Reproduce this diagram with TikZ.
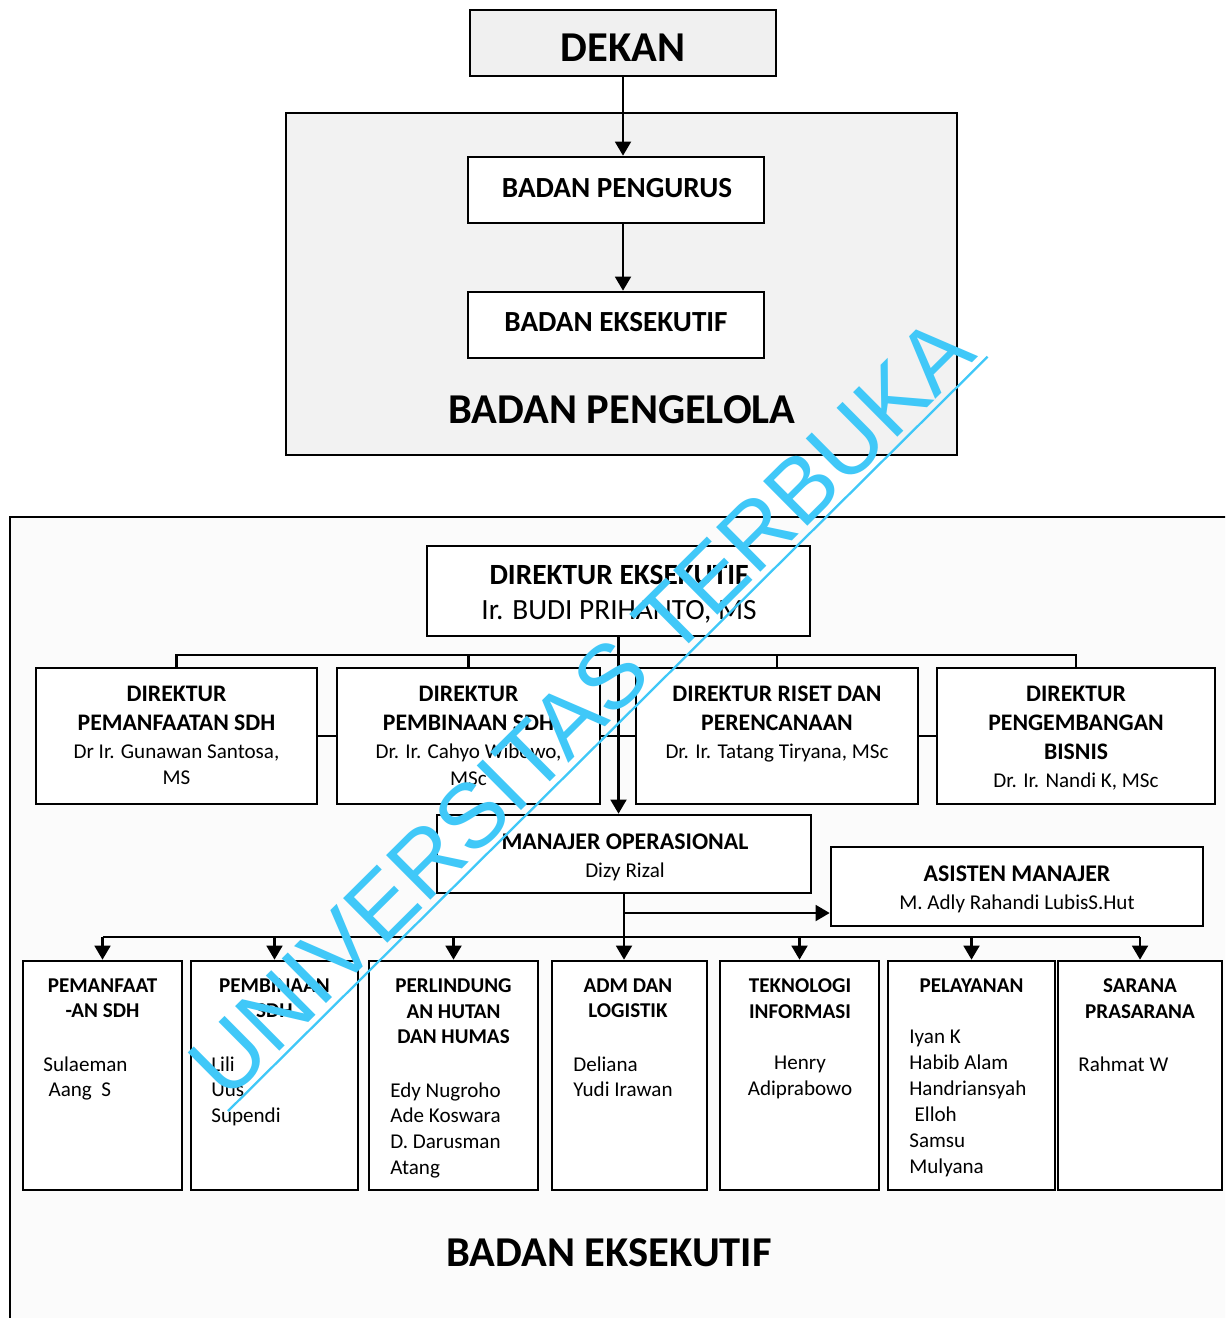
\documentclass[tikz,border=0pt]{standalone}
\usepackage{fontspec}
\setmainfont{Carlito}
\newfontfamily\wmfont{Liberation Sans}
\usepackage{tikz}
\usetikzlibrary{arrows.meta,positioning,calc}
\definecolor{wmcyan}{RGB}{64,200,248}

\tikzset{
  box/.style={draw, line width=1.5pt, fill=white, inner sep=0pt},
  boxsize/.style 2 args={minimum width=#1*0.02cm, minimum height=#2*0.02cm},
  link/.style={line width=1.4pt},
  arr/.style={link, -{Triangle[width=9pt,length=8pt]}},
  bigtxt/.style={inner sep=0pt, font=\fontsize{24.2}{29}\selectfont\bfseries},
  midtxt/.style={inner sep=0pt, font=\fontsize{16.6}{20}\selectfont\bfseries},
  dirtitle/.style={inner sep=0pt, anchor=north, align=center, font=\fontsize{13.5}{16.4}\selectfont\bfseries},
  dirname/.style={inner sep=0pt, anchor=north, align=center, font=\fontsize{12}{15.3}\selectfont},
  unittitle/.style={inner sep=0pt, anchor=north, align=center, font=\fontsize{12}{14.7}\selectfont\bfseries},
  unitname/.style={inner sep=0pt, anchor=north west, align=left, font=\fontsize{12}{14.7}\selectfont},
  wmtxt/.style={text=wmcyan, inner sep=3pt, font=\wmfont\fontsize{52}{52}\selectfont}
}

\begin{document}
\begin{tikzpicture}[x=0.02cm, y=-0.02cm]
\clip (0,0) rectangle (1225,1318);
\fill[white] (0,0) rectangle (1225,1318);

% Badan pengelola
\node[box, boxsize={671}{342}, fill=black!5] (pengelola) at (621.5,284) {};
\node[box, boxsize={306}{66}, fill=black!6] (dekan) at (623,43) {};
\node[box, boxsize={296}{66}] (pengurus) at (616,190) {};
\node[box, boxsize={296}{66}] (eksatas) at (616,325) {};

\node[bigtxt] (dekant) at (623,48) {DEKAN};
\node[midtxt] (pengurust) at (617,188) {BADAN PENGURUS};
\node[midtxt] (eksatast) at (616,322) {BADAN EKSEKUTIF};
\node[bigtxt] (pengelolat) at (622,410) {BADAN PENGELOLA};

\draw[arr] (dekan.south) -- (dekan.south |- pengurus.north);
\draw[arr] (pengurus.south -| dekan.south) -- (eksatas.north -| dekan.south);

% Badan eksekutif
\node[box, boxsize={1250}{843}, fill=black!1.5] (frame) at (635,938.5) {};

\node[box, boxsize={383}{90}] (direx) at (618.5,591) {};
\node[inner sep=0pt, align=center, font=\fontsize{16.7}{19.8}\selectfont] (dirext) at (619,594)
      {\textbf{DIREKTUR EKSEKUTIF}\\Ir. BUDI PRIHANTO, MS};

% Directors
\node[box, boxsize={281}{136}] (d1) at (176.5,736) {};
\node[box, boxsize={263}{136}] (d2) at (468.5,736) {};
\node[box, boxsize={282}{136}] (d3) at (777,736) {};
\node[box, boxsize={278}{136}] (d4) at (1076,736) {};

\node[dirtitle] (d1t) at (176.5,686) {DIREKTUR\\PEMANFAATAN SDH};
\node[dirname] (d1n) at (176.5,744) {Dr Ir. Gunawan Santosa,\\MS};
\node[dirtitle] (d2t) at (468.5,686) {DIREKTUR\\PEMBINAAN SDH};
\node[dirname] (d2n) at (468.5,744) {Dr. Ir. Cahyo Wibowo,\\MSc};
\node[dirtitle] (d3t) at (777,686) {DIREKTUR RISET DAN\\PERENCANAAN};
\node[dirname] (d3n) at (777,744) {Dr. Ir. Tatang Tiryana, MSc};
\node[dirtitle] (d4t) at (1076,686) {DIREKTUR\\PENGEMBANGAN\\BISNIS};
\node[dirname] (d4n) at (1076,773) {Dr. Ir. Nandi K, MSc};

% Managers
\node[box, boxsize={374}{78}] (mo) at (624,854) {};
\node[box, boxsize={372}{79}] (am) at (1017,886.5) {};
\node[inner sep=0pt, align=center, font=\fontsize{13.6}{15.9}\selectfont] (mot) at (625,857)
      {\textbf{MANAJER OPERASIONAL}\\{\fontsize{12}{15.9}\selectfont Dizy Rizal}};
\node[inner sep=0pt, align=center, font=\fontsize{13.6}{15.9}\selectfont] (amt) at (1017,889)
      {\textbf{ASISTEN MANAJER}\\{\fontsize{12}{15.9}\selectfont M. Adly Rahandi LubisS.Hut}};

% Units
\node[box, boxsize={159}{229}] (u1) at (102.5,1075.5) {};
\node[box, boxsize={167}{229}] (u2) at (274.5,1075.5) {};
\node[box, boxsize={169}{229}] (u3) at (453.5,1075.5) {};
\node[box, boxsize={155}{229}] (u4) at (629.5,1075.5) {};
\node[box, boxsize={159}{229}] (u5) at (799.5,1075.5) {};
\node[box, boxsize={167}{229}] (u6) at (971.5,1075.5) {};
\node[box, boxsize={164}{229}] (u7) at (1140,1075.5) {};

\node[unittitle] (u1t) at (102.5,978) {PEMANFAAT\\-AN SDH};
\node[unitname] (u1n) at (43,1056) {Sulaeman\\\hspace*{3pt}Aang~ S};
\node[unittitle] (u2t) at (274.5,978) {PEMBINAAN\\SDH};
\node[unitname] (u2n) at (211,1056) {Lili\\Uus\\Supendi};
\node[unittitle] (u3t) at (453.5,978) {PERLINDUNG\\AN HUTAN\\DAN HUMAS};
\node[unitname] (u3n) at (390,1082) {Edy Nugroho\\Ade Koswara\\D. Darusman\\Atang};
\node[unittitle] (u4t) at (628,978) {ADM DAN\\LOGISTIK};
\node[unitname] (u4n) at (573,1056) {Deliana\\Yudi Irawan};
\node[unittitle] (u5t) at (800,978) {TEKNOLOGI\\INFORMASI};
\node[unitname, anchor=north, align=center] (u5n) at (800,1056) {Henry\\Adiprabowo};
\node[unittitle] (u6t) at (971.5,978) {PELAYANAN};
\node[unitname] (u6n) at (909,1030) {Iyan K\\Habib Alam\\Handriansyah\\\hspace*{3pt}Elloh\\Samsu\\Mulyana};
\node[unittitle] (u7t) at (1140,978) {SARANA\\PRASARANA};
\node[unitname] (u7n) at (1078,1056) {Rahmat W};

\node[bigtxt] (eksbawaht) at (609,1253) {BADAN EKSEKUTIF};

% Connectors
\coordinate (dbus) at (0,655);
\draw[link] (d1.north) -- (d1.north |- dbus) -- (d4.north |- dbus) -- (d4.north);
\draw[link] (d2.north) -- (d2.north |- dbus);
\draw[link] (d3.north) -- (d3.north |- dbus);
\draw[link] (d1.east) -- (d2.west);
\draw[link] (d2.east) -- (d3.west);
\draw[link] (d3.east) -- (d4.west);
\draw[arr] (direx.south) -- (direx.south |- mo.north);

\coordinate (asbr) at (624,913);
\coordinate (ubus) at (0,937);
\draw[arr] (mo.south) -- (mo.south |- u4.north);
\draw[arr] (asbr) -- (asbr -| am.west);
\draw[link] (u1.north |- ubus) -- (u7.north |- ubus);
\draw[arr] (u1.north |- ubus) -- (u1.north);
\draw[arr] (u2.north |- ubus) -- (u2.north);
\draw[arr] (u3.north |- ubus) -- (u3.north);
\draw[arr] (u5.north |- ubus) -- (u5.north);
\draw[arr] (u6.north |- ubus) -- (u6.north);
\draw[arr] (u7.north |- ubus) -- (u7.north);

% Watermark
\node[wmtxt, rotate=44.8] (wm) at (581,707) {UNIVERSITAS TERBUKA};
\draw[wmcyan, line width=1.3pt] (wm.south west) -- (wm.south east);

\end{tikzpicture}
\end{document}
